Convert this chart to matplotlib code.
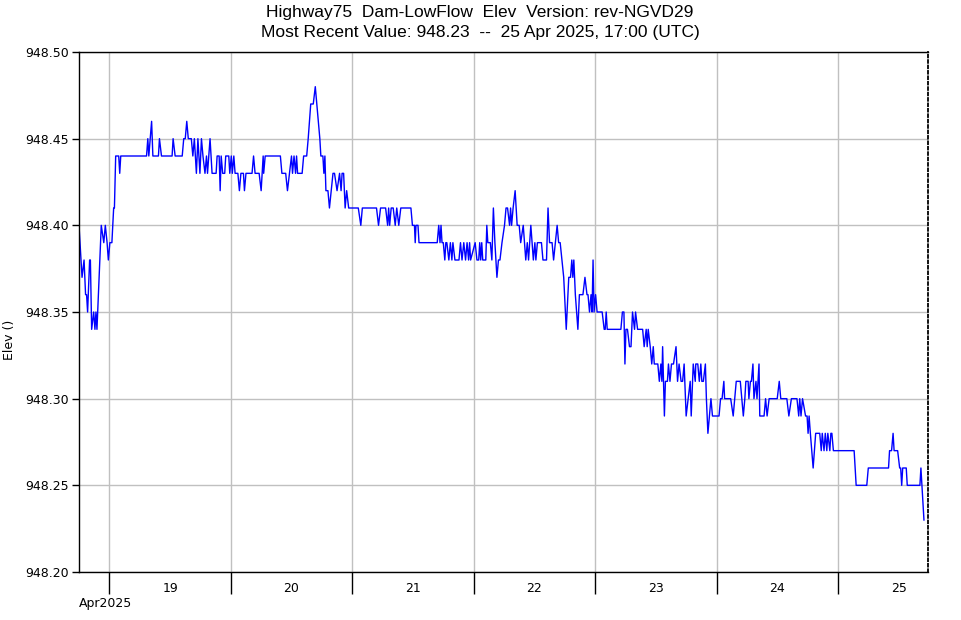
import matplotlib
matplotlib.use('Agg')
import matplotlib.pyplot as plt
import matplotlib.dates as mdates
from matplotlib.ticker import FormatStrFormatter, NullFormatter
import pandas as pd

TITLE = 'Highway75  Dam-LowFlow  Elev  Version: rev-NGVD29'
SUBTITLE = 'Most Recent Value: 948.23  --  25 Apr 2025, 17:00 (UTC)'
YLABEL = 'Elev ()'
MONTH_LABEL = 'Apr2025'
y_ticks = [948.20, 948.25, 948.30, 948.35, 948.40, 948.45, 948.50]

# (hour of day UTC, elevation)
apr18 = [(18.0, 948.40), (18.6, 948.37), (19.0, 948.38), (19.3, 948.36), (19.5, 948.36),
         (19.7, 948.35), (20.1, 948.38), (20.25, 948.38), (20.5, 948.34), (20.9, 948.35),
         (21.15, 948.34), (21.35, 948.35), (21.55, 948.34), (22.4, 948.40), (22.9, 948.39),
         (23.2, 948.40), (23.55, 948.39), (23.8, 948.38)]
apr19 = [(0.1, 948.39), (0.5, 948.39), (0.85, 948.41), (1.0, 948.41), (1.25, 948.44),
         (1.85, 948.44), (2.05, 948.43), (2.25, 948.44), (7.35, 948.44), (7.6, 948.45),
         (7.8, 948.44), (8.35, 948.46), (8.6, 948.44), (9.7, 948.44), (9.9, 948.45),
         (10.3, 948.44), (12.4, 948.44), (12.6, 948.45), (13.0, 948.44), (14.4, 948.44),
         (14.7, 948.45), (15.0, 948.45), (15.3, 948.46), (15.6, 948.45), (16.2, 948.45),
         (16.5, 948.44), (16.8, 948.45), (17.2, 948.43), (17.5, 948.45), (17.9, 948.43),
         (18.2, 948.45), (18.5, 948.44), (18.9, 948.43), (19.2, 948.44), (19.4, 948.43),
         (19.9, 948.45), (20.3, 948.43), (21.1, 948.43), (21.3, 948.44), (21.7, 948.44),
         (21.9, 948.42), (22.1, 948.44), (22.4, 948.43), (22.8, 948.43), (23.0, 948.44),
         (23.6, 948.44), (23.8, 948.43)]
apr20 = [(0.1, 948.44), (0.3, 948.43), (0.6, 948.44), (0.85, 948.43), (1.4, 948.43),
         (1.7, 948.42), (2.0, 948.43), (2.5, 948.43), (2.7, 948.42), (3.0, 948.43),
         (4.2, 948.43), (4.5, 948.44), (4.8, 948.43), (5.6, 948.43), (6.0, 948.42),
         (6.4, 948.44), (6.5, 948.43), (6.8, 948.44), (9.8, 948.44), (10.1, 948.43),
         (10.85, 948.43), (11.2, 948.42), (11.6, 948.43), (12.0, 948.44), (12.2, 948.43),
         (12.5, 948.44), (12.8, 948.43), (13.0, 948.44), (13.2, 948.43), (14.1, 948.43),
         (14.4, 948.44), (15.0, 948.44), (15.3, 948.45), (15.8, 948.47), (16.3, 948.47),
         (16.7, 948.48), (17.0, 948.47), (17.6, 948.45), (17.8, 948.44), (18.2, 948.44),
         (18.4, 948.43), (18.6, 948.44), (18.8, 948.42), (19.2, 948.42), (19.5, 948.41),
         (20.2, 948.43), (20.5, 948.43), (21.0, 948.42), (21.5, 948.43), (21.8, 948.42),
         (22.0, 948.43), (22.3, 948.43), (22.6, 948.41), (22.9, 948.42), (23.3, 948.41)]
apr21 = [(1.2, 948.41), (1.7, 948.40), (2.0, 948.41), (4.8, 948.41), (5.2, 948.40),
         (5.6, 948.41), (6.6, 948.41), (7.0, 948.40), (7.2, 948.41), (7.4, 948.40),
         (7.7, 948.41), (8.1, 948.41), (8.5, 948.40), (8.8, 948.41), (9.2, 948.40),
         (9.6, 948.41), (11.6, 948.41), (11.9, 948.40), (12.3, 948.40), (12.45, 948.39),
         (12.6, 948.40), (13.0, 948.40), (13.2, 948.39), (16.8, 948.39), (17.1, 948.40),
         (17.35, 948.39), (17.55, 948.40), (17.75, 948.39), (18.0, 948.39), (18.3, 948.38),
         (18.5, 948.39), (18.7, 948.39), (19.1, 948.38), (19.4, 948.39), (19.7, 948.38),
         (19.9, 948.39), (20.3, 948.38), (21.1, 948.38), (21.4, 948.39), (21.7, 948.38),
         (22.05, 948.39), (22.4, 948.38), (22.7, 948.39), (23.0, 948.38), (23.2, 948.39),
         (23.4, 948.38)]
apr22 = [(0.3, 948.39), (0.65, 948.38), (1.0, 948.38), (1.2, 948.39), (1.4, 948.38),
         (1.6, 948.39), (1.8, 948.38), (2.4, 948.38), (2.6, 948.40), (2.8, 948.39),
         (3.3, 948.39), (3.6, 948.38), (3.9, 948.41), (4.2, 948.39), (4.6, 948.37),
         (4.9, 948.38), (5.2, 948.38), (5.6, 948.39), (6.1, 948.40), (6.4, 948.41),
         (6.7, 948.41), (7.1, 948.40), (7.3, 948.41), (7.5, 948.40), (7.8, 948.41),
         (8.2, 948.42), (8.6, 948.40), (9.0, 948.40), (9.3, 948.39), (9.8, 948.40),
         (10.3, 948.38), (10.6, 948.39), (10.85, 948.38), (11.3, 948.40), (11.8, 948.38),
         (12.1, 948.39), (12.3, 948.38), (12.6, 948.39), (13.4, 948.39), (13.7, 948.38),
         (14.4, 948.38), (14.7, 948.41), (15.0, 948.39), (15.5, 948.39), (15.8, 948.38),
         (16.5, 948.40), (16.8, 948.39), (17.1, 948.39), (17.45, 948.38), (17.8, 948.37),
         (18.3, 948.34), (18.8, 948.37), (19.15, 948.37), (19.4, 948.38), (19.6, 948.37),
         (19.8, 948.38), (20.1, 948.36), (20.6, 948.34), (20.9, 948.36), (21.6, 948.36),
         (22.0, 948.37), (22.4, 948.36), (22.6, 948.36), (22.9, 948.35), (23.2, 948.36),
         (23.4, 948.35), (23.6, 948.38), (23.8, 948.35)]
apr23 = [(0.1, 948.36), (0.4, 948.35), (1.4, 948.35), (1.8, 948.34), (2.0, 948.34),
         (2.2, 948.35), (2.4, 948.34), (5.1, 948.34), (5.4, 948.35), (5.7, 948.35),
         (5.9, 948.32), (6.1, 948.34), (6.4, 948.34), (6.8, 948.33), (7.1, 948.33),
         (7.4, 948.35), (7.8, 948.34), (8.0, 948.35), (8.4, 948.34), (9.4, 948.34),
         (9.7, 948.33), (10.1, 948.34), (10.3, 948.33), (10.5, 948.34), (10.9, 948.33),
         (11.2, 948.32), (11.5, 948.33), (11.7, 948.32), (12.4, 948.32), (12.7, 948.31),
         (13.0, 948.32), (13.2, 948.31), (13.35, 948.33), (13.7, 948.29), (13.9, 948.31),
         (14.3, 948.31), (14.5, 948.32), (14.8, 948.31), (15.1, 948.32), (15.5, 948.32),
         (16.0, 948.33), (16.3, 948.31), (16.6, 948.32), (17.0, 948.31), (17.3, 948.31),
         (17.6, 948.32), (18.0, 948.29), (18.4, 948.30), (18.8, 948.31), (19.0, 948.29),
         (19.4, 948.32), (19.8, 948.31), (19.9, 948.32), (20.3, 948.32), (20.6, 948.31),
         (20.9, 948.32), (21.1, 948.31), (21.4, 948.31), (21.8, 948.32), (22.0, 948.30),
         (22.3, 948.28), (22.6, 948.29), (22.9, 948.30), (23.2, 948.29)]
apr24 = [(0.5, 948.29), (0.8, 948.30), (1.1, 948.30), (1.45, 948.31), (1.6, 948.30),
         (2.8, 948.30), (3.3, 948.29), (3.6, 948.30), (3.9, 948.31), (4.7, 948.31),
         (5.3, 948.29), (5.6, 948.30), (5.8, 948.31), (6.25, 948.31), (6.4, 948.30),
         (6.7, 948.31), (6.9, 948.31), (7.2, 948.32), (7.4, 948.30), (7.8, 948.31),
         (8.0, 948.30), (8.4, 948.32), (8.55, 948.29), (9.4, 948.29), (9.7, 948.30),
         (10.0, 948.29), (10.4, 948.30), (12.0, 948.30), (12.4, 948.31), (12.7, 948.30),
         (13.9, 948.30), (14.3, 948.29), (14.8, 948.30), (15.9, 948.30), (16.25, 948.29),
         (16.45, 948.30), (16.7, 948.29), (17.0, 948.30), (17.6, 948.29), (17.9, 948.29),
         (18.1, 948.28), (18.3, 948.29), (18.55, 948.28), (19.1, 948.26), (19.6, 948.28),
         (20.4, 948.28), (20.7, 948.27), (20.9, 948.28), (21.25, 948.27), (21.5, 948.28),
         (21.8, 948.27), (22.0, 948.28), (22.4, 948.27), (22.6, 948.28), (22.8, 948.28),
         (23.1, 948.27)]
apr25 = [(3.2, 948.27), (3.6, 948.25), (5.7, 948.25), (6.0, 948.26), (10.0, 948.26),
         (10.2, 948.27), (10.6, 948.27), (10.9, 948.28), (11.1, 948.27), (11.8, 948.27),
         (12.2, 948.26), (12.4, 948.26), (12.6, 948.25), (12.8, 948.26), (13.5, 948.26),
         (13.7, 948.25), (16.2, 948.25), (16.4, 948.26), (16.6, 948.25), (17.0, 948.23)]

days = [('2025-04-18', apr18), ('2025-04-19', apr19), ('2025-04-20', apr20),
        ('2025-04-21', apr21), ('2025-04-22', apr22), ('2025-04-23', apr23),
        ('2025-04-24', apr24), ('2025-04-25', apr25)]

times, elev = [], []
for day, pts in days:
    base = pd.Timestamp(day)
    for hr, v in pts:
        times.append(base + pd.Timedelta(hours=hr))
        elev.append(v)

W, H = 961, 620
fig = plt.figure(figsize=(W / 100, H / 100), dpi=100)
ax = fig.add_axes([79 / W, (H - 572) / H, 849 / W, 520 / H])
ax.plot(times, elev, color='#0000ff', lw=1.0)

ax.set_xlim(pd.Timestamp('2025-04-18 18:00'), pd.Timestamp('2025-04-25 17:48'))
ax.set_ylim(y_ticks[0], y_ticks[-1])
ax.set_yticks(y_ticks)
ax.yaxis.set_major_formatter(FormatStrFormatter('%.2f'))

ax.xaxis.set_major_locator(mdates.DayLocator())
ax.xaxis.set_major_formatter(NullFormatter())
ax.xaxis.set_minor_locator(mdates.HourLocator(byhour=12))
ax.xaxis.set_minor_formatter(mdates.DateFormatter('%d'))
ax.tick_params(axis='x', which='major', length=16, width=1)
ax.tick_params(axis='x', which='minor', length=0, pad=7, labelsize=9)
ax.tick_params(axis='y', length=5, width=1, pad=2, labelsize=9)

ax.grid(True, which='major', color='#c0c0c0', lw=1)
ax.set_axisbelow(True)
for s in ax.spines.values():
    s.set_linewidth(1)
ax.spines['right'].set_linestyle((0, (1.5, 1.5)))
ax.spines['right'].set_linewidth(1.3)

title_font = ['Liberation Sans', 'DejaVu Sans']
fig.text(480 / W, 1 - 13 / H, TITLE, ha='center', va='center', fontsize=12.5, family=title_font)
fig.text(480 / W, 1 - 32 / H, SUBTITLE, ha='center', va='center', fontsize=12.5, family=title_font)
fig.text(10 / W, 1 - 340 / H, YLABEL, rotation=90, ha='center', va='center', fontsize=9)
fig.text(79 / W, 1 - 604 / H, MONTH_LABEL, ha='left', va='center', fontsize=9)

fig.savefig('out.png', dpi=100)
